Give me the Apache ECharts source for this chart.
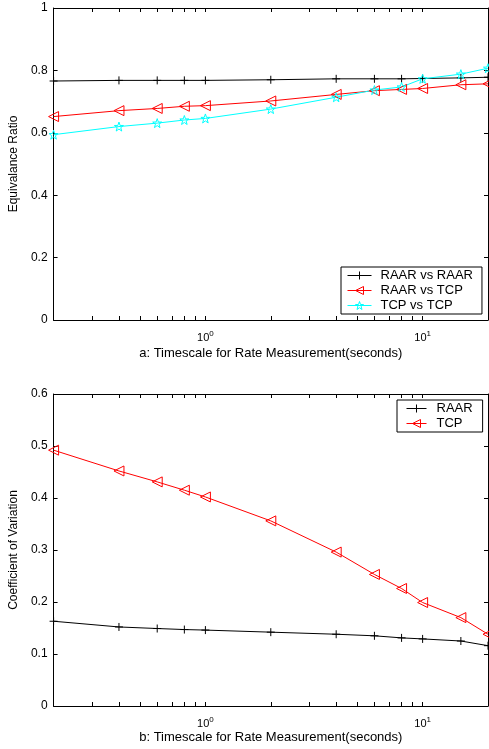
<!DOCTYPE html>
<html>
<head>
<meta charset="utf-8">
<script src="https://cdn.jsdelivr.net/npm/echarts@6/dist/echarts.min.js"></script>
<style>
html, body { margin: 0; padding: 0; background: #fff; }
#chart { width: 489px; height: 749px; }
</style>
</head>
<body>
<div id="chart"></div>
<script>
// Measurement timescales (seconds)
const timescales = [0.2, 0.4, 0.6, 0.8, 1, 2, 4, 6, 8, 10, 15, 20];

// (a) Equivalence ratio
const eqRaarVsRaar = [0.766, 0.768, 0.768, 0.768, 0.768, 0.770, 0.773, 0.773, 0.773, 0.774, 0.776, 0.778];
const eqRaarVsTcp  = [0.652, 0.671, 0.678, 0.685, 0.687, 0.702, 0.723, 0.735, 0.739, 0.742, 0.754, 0.757];
const eqTcpVsTcp   = [0.594, 0.620, 0.631, 0.641, 0.646, 0.676, 0.714, 0.737, 0.747, 0.773, 0.788, 0.807];

// (b) Coefficient of variation
const covRaar = [0.163, 0.152, 0.149, 0.147, 0.146, 0.142, 0.138, 0.135, 0.131, 0.129, 0.125, 0.116];
const covTcp  = [0.492, 0.452, 0.431, 0.415, 0.402, 0.356, 0.296, 0.253, 0.226, 0.199, 0.170, 0.138];

// Log-axis tick positions and labelled decades
const logTicks = [0.3, 0.4, 0.5, 0.6, 0.7, 0.8, 0.9, 1, 2, 3, 4, 5, 6, 7, 8, 9, 10];
const decadeLabels = [1, 10];

const FONT = 'Liberation Sans, Arial, sans-serif';
const pts = arr => timescales.map((t, i) => [t, arr[i]]);

const plusSymbol = 'path://M0,5H10M5,0V10';
const starSymbol = 'path://M5,0L6.2,3.4L9.76,3.45L6.9,5.62L7.94,9.05L5,7L2.06,9.05L3.1,5.62L0.24,3.45L3.8,3.4Z';

function decadeFmt(v) {
  const e = Math.round(Math.log10(v));
  return '{b|10}{s|' + e + '}';
}

function xAxesFor(gridIndex, title, gap) {
  const common = {
    type: 'log', logBase: 10, min: 0.2, max: 20, gridIndex,
    axisLine: { show: true, onZero: false, lineStyle: { color: '#000', width: 1 } },
    axisTick: { show: true, inside: true, length: 4, customValues: logTicks, lineStyle: { color: '#000' } },
    splitLine: { show: false },
    minorTick: { show: false }
  };
  return [
    Object.assign({}, common, {
      position: 'bottom',
      name: title, nameLocation: 'middle', nameGap: gap,
      nameTextStyle: { fontFamily: FONT, fontSize: 13, color: '#000' },
      axisLabel: {
        show: true, customValues: decadeLabels, margin: 10, formatter: decadeFmt,
        rich: {
          b: { fontFamily: FONT, fontSize: 11, color: '#000' },
          s: { fontFamily: FONT, fontSize: 8, color: '#000', padding: [0, 0, 8, 0] }
        }
      }
    }),
    Object.assign({}, common, { position: 'top', axisLabel: { show: false } })
  ];
}

function yAxesFor(gridIndex, max, interval, title) {
  const common = {
    type: 'value', min: 0, max, interval, gridIndex,
    axisLine: { show: true, lineStyle: { color: '#000', width: 1 } },
    axisTick: { show: true, inside: true, length: 4, lineStyle: { color: '#000' } },
    splitLine: { show: false }
  };
  return [
    Object.assign({}, common, {
      position: 'left',
      name: title, nameLocation: 'middle', nameGap: 29,
      nameTextStyle: { fontFamily: FONT, fontSize: 12, color: '#000' },
      axisLabel: { fontFamily: FONT, fontSize: 12, color: '#000', margin: 6 }
    }),
    Object.assign({}, common, { position: 'right', axisLabel: { show: false } })
  ];
}

const xAxes = xAxesFor(0, 'a: Timescale for Rate Measurement(seconds)', 27)
  .concat(xAxesFor(1, 'b: Timescale for Rate Measurement(seconds)', 25));
const yAxes = yAxesFor(0, 1, 0.2, 'Equivalance Ratio')
  .concat(yAxesFor(1, 0.6, 0.1, 'Coefficient of Variation'));

function lineSeries(name, data, xi, yi, color, symbol, size, extra) {
  return Object.assign({
    name, type: 'line', data: pts(data),
    xAxisIndex: xi, yAxisIndex: yi,
    symbol, symbolSize: size, showAllSymbol: true,
    lineStyle: { color, width: 1 },
    itemStyle: { color: 'rgba(0,0,0,0)', borderColor: color, borderWidth: 1 },
    emphasis: { disabled: true },
    animation: false
  }, extra || {});
}

const legendCommon = {
  orient: 'vertical',
  itemHeight: 10, itemGap: 2,
  backgroundColor: '#fff', borderColor: '#000', borderWidth: 1,
  lineStyle: { width: 1 },
  itemStyle: { borderWidth: 1 }
};

const option = {
  backgroundColor: '#fff',
  animation: false,
  grid: [
    { left: 50, right: 1, top: 8, height: 312 },
    { left: 50, right: 1, top: 394, height: 312 }
  ],
  xAxis: xAxes,
  yAxis: yAxes,
  legend: [
    Object.assign({}, legendCommon, {
      data: ['RAAR vs RAAR', 'RAAR vs TCP', 'TCP vs TCP'],
      left: 341, top: 267,
      padding: [2, 9, 2, 6],
      itemWidth: 24,
      textStyle: { fontFamily: FONT, fontSize: 13, lineHeight: 13, color: '#000', padding: [0, 0, 0, 4] }
    }),
    Object.assign({}, legendCommon, {
      data: ['RAAR', 'TCP'],
      left: 397, top: 400,
      padding: [2, 10, 2, 9],
      itemWidth: 20,
      textStyle: { fontFamily: FONT, fontSize: 13, lineHeight: 13, color: '#000', padding: [0, 0, 0, 5] }
    })
  ],
  series: [
    lineSeries('RAAR vs RAAR', eqRaarVsRaar, 0, 0, '#000', plusSymbol, 8),
    lineSeries('RAAR vs TCP', eqRaarVsTcp, 0, 0, '#ff0000', 'triangle', 10, { symbolRotate: 90 }),
    lineSeries('TCP vs TCP', eqTcpVsTcp, 0, 0, '#00ffff', starSymbol, 9),
    lineSeries('RAAR', covRaar, 2, 2, '#000', plusSymbol, 8),
    lineSeries('TCP', covTcp, 2, 2, '#ff0000', 'triangle', 10, { symbolRotate: 90 })
  ]
};

const chart = echarts.init(document.getElementById('chart'), null, { renderer: 'canvas' });
chart.setOption(option);
</script>
</body>
</html>
